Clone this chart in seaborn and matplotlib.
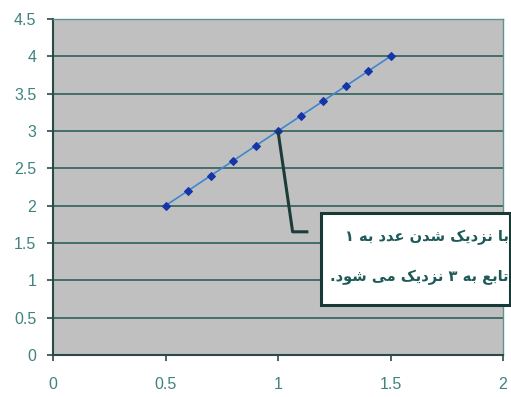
import matplotlib
matplotlib.use("Agg")
import matplotlib.pyplot as plt
import seaborn as sns
import pandas as pd

# ---- data ----
x_vals = [0.5, 0.6, 0.7, 0.8, 0.9, 1.0, 1.1, 1.2, 1.3, 1.4, 1.5]
y_vals = [2.0, 2.2, 2.4, 2.6, 2.8, 3.0, 3.2, 3.4, 3.6, 3.8, 4.0]
x_ticks = [0, 0.5, 1, 1.5, 2]
x_tick_labels = ["0", "0.5", "1", "1.5", "2"]
y_ticks = [0, 0.5, 1, 1.5, 2, 2.5, 3, 3.5, 4, 4.5]
y_tick_labels = ["0", "0.5", "1", "1.5", "2", "2.5", "3", "3.5", "4", "4.5"]
note_lines = ["با نزدیک شدن عدد به ۱", "تابع به ۳ نزدیک می شود."]
note_index = 5  # point (1, 3)

# ---- simple Arabic/Persian shaping for display ----
FORMS = {  # isolated, final, initial, medial
    "\u0627": ("\uFE8D", "\uFE8E", None, None),
    "\u0628": ("\uFE8F", "\uFE90", "\uFE91", "\uFE92"),
    "\u062A": ("\uFE95", "\uFE96", "\uFE97", "\uFE98"),
    "\u062F": ("\uFEA9", "\uFEAA", None, None),
    "\u0632": ("\uFEAF", "\uFEB0", None, None),
    "\u0634": ("\uFEB5", "\uFEB6", "\uFEB7", "\uFEB8"),
    "\u0639": ("\uFEC9", "\uFECA", "\uFECB", "\uFECC"),
    "\u0645": ("\uFEE1", "\uFEE2", "\uFEE3", "\uFEE4"),
    "\u0646": ("\uFEE5", "\uFEE6", "\uFEE7", "\uFEE8"),
    "\u0647": ("\uFEE9", "\uFEEA", "\uFEEB", "\uFEEC"),
    "\u0648": ("\uFEED", "\uFEEE", None, None),
    "\u06CC": ("\uFBFC", "\uFBFD", "\uFBFE", "\uFBFF"),
    "\u06A9": ("\uFB8E", "\uFB8F", "\uFB90", "\uFB91"),
}


def shape(s):
    out = []
    n = len(s)
    for i, ch in enumerate(s):
        if ch not in FORMS:
            out.append(ch)
            continue
        prev = s[i - 1] if i > 0 else None
        nxt = s[i + 1] if i + 1 < n else None
        join_prev = prev in FORMS and FORMS[prev][2] is not None
        join_next = nxt in FORMS and FORMS[ch][2] is not None
        iso, fin, ini, med = FORMS[ch]
        if join_prev and join_next:
            out.append(med)
        elif join_prev:
            out.append(fin)
        elif join_next:
            out.append(ini)
        else:
            out.append(iso)
    return "".join(reversed(out))


sns.set_theme(style="white")
plt.rcParams["font.family"] = ["Liberation Sans", "DejaVu Sans"]

fig = plt.figure(figsize=(5.11, 3.97), dpi=100)
ax = fig.add_axes([53 / 511, 42 / 397, 450 / 511, 336 / 397])
ax.set_facecolor("#c0c0c0")

df = pd.DataFrame({"x": x_vals, "y": y_vals})
sns.lineplot(data=df, x="x", y="y", ax=ax, color="#3f86d0", linewidth=1.2,
             marker="D", markersize=4.5, markerfacecolor="#1535a8",
             markeredgecolor="#1535a8", zorder=4)

ax.set_xlim(0, 2)
ax.set_ylim(0, 4.5)
ax.set_xticks(x_ticks)
ax.set_xticklabels(x_tick_labels)
ax.set_yticks(y_ticks)
ax.set_yticklabels(y_tick_labels)
ax.set_xlabel("")
ax.set_ylabel("")

grid_col = "#3b6763"
for yv in y_ticks[1:-1]:
    ax.axhline(yv, color=grid_col, linewidth=1.3, zorder=1)

for side in ["left", "bottom"]:
    ax.spines[side].set_color("#2a4a47")
    ax.spines[side].set_linewidth(1.5)
for side in ["top", "right"]:
    ax.spines[side].set_color("#5f9390")
    ax.spines[side].set_linewidth(1.0)

tick_col = "#3f8280"
ax.tick_params(axis="both", which="major", direction="out", length=4,
               width=1.2, color="#2a4a47", labelsize=11.5, labelcolor=tick_col,
               left=True, bottom=True)
ax.tick_params(axis="y", pad=8)
ax.tick_params(axis="x", pad=12)

# ---- callout ----
px, py = x_vals[note_index], y_vals[note_index]
line_col = "#1d3c39"
ax.plot([px, 1.065, 1.135], [py, 1.65, 1.65], color=line_col, linewidth=2.2,
        solid_capstyle="butt", zorder=5, clip_on=False)
box = plt.Rectangle((1.19, 0.67), 0.84, 1.23, facecolor="white",
                    edgecolor="#173a37", linewidth=2.2, zorder=6, clip_on=False)
ax.add_patch(box)
ax.text(2.025, 1.58, shape(note_lines[0]), ha="right", va="center",
        fontsize=10.5, fontweight="bold", color="#1d5a58",
        family=["DejaVu Sans"], zorder=7, clip_on=False)
ax.text(2.025, 1.04, shape(note_lines[1]), ha="right", va="center",
        fontsize=10.5, fontweight="bold", color="#1d5a58",
        family=["DejaVu Sans"], zorder=7, clip_on=False)

fig.savefig("out.png", dpi=100, facecolor="white")
